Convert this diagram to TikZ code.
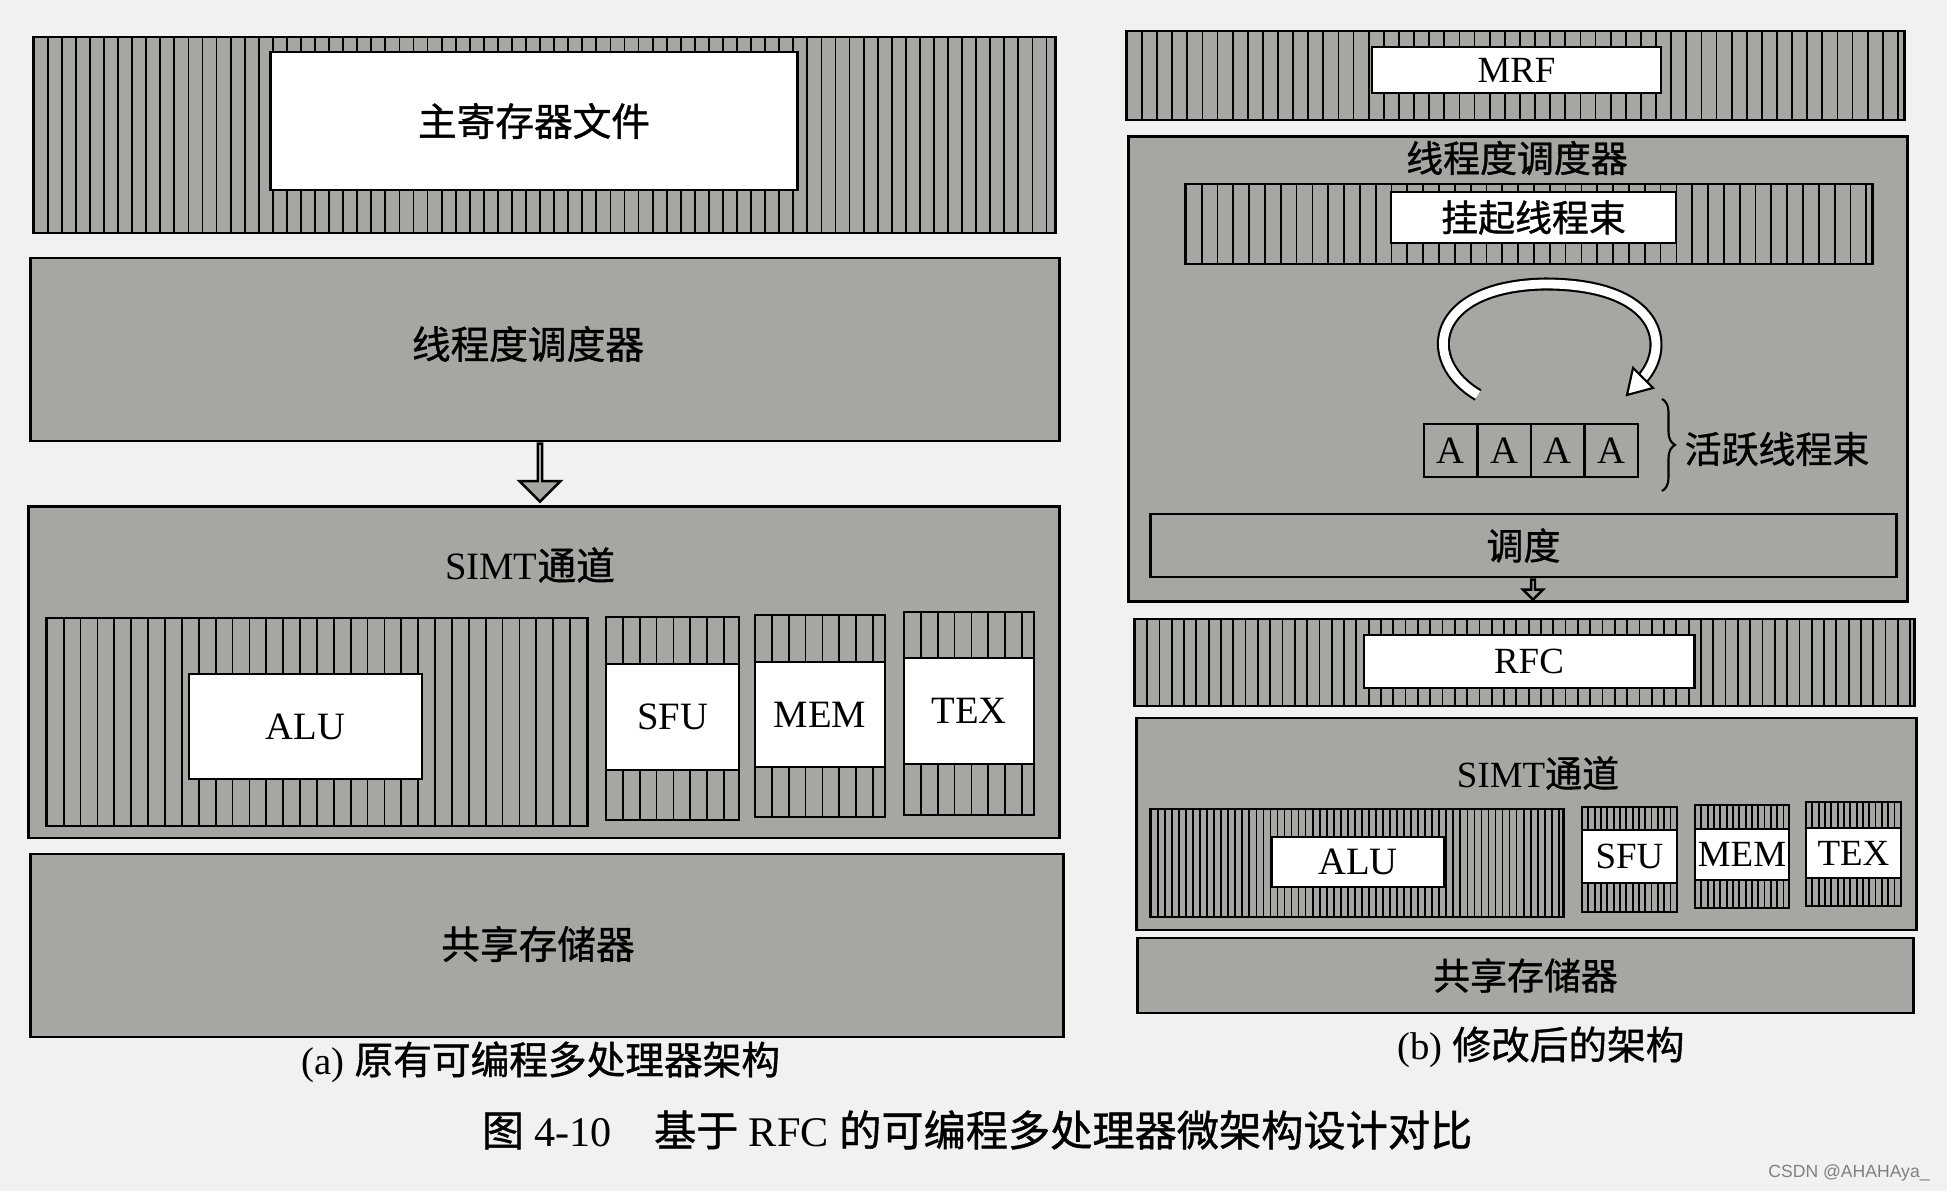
\documentclass[tikz,border=0pt]{standalone}
\usepackage{fontspec}
\setmainfont{Liberation Serif}
\newfontfamily\cjk{Noto Sans CJK SC}[FakeBold=1]
\newfontfamily\wmfont{Liberation Sans}
\usetikzlibrary{calc,shapes.arrows,decorations.pathreplacing}
\definecolor{paper}{RGB}{241,241,239}
\definecolor{boxgray}{RGB}{166,166,163}

\begin{document}
\begin{tikzpicture}[x=0.01cm,y=0.01cm,
  panel/.style={draw,line width=0.8pt,fill=boxgray,inner sep=0pt},
  hatch/.style={fill=boxgray,draw,line width=0.8pt,inner sep=0pt,
    path picture={\foreach \xx in {0,#1,...,300}
      \draw[line width=0.5pt] ($(path picture bounding box.south west)+(\xx pt,0)$)
        -- ($(path picture bounding box.north west)+(\xx pt,0)$);}},
  whitebox/.style={draw,line width=0.8pt,fill=white,inner sep=0pt},
  labA/.style={font=\fontsize{11}{13}\selectfont},
  labB/.style={font=\fontsize{10.5}{12}\selectfont},
  blockarrow/.style={single arrow,draw,line width=0.7pt,fill=boxgray,
    inner sep=0pt,single arrow head indent=0pt,rotate=-90,anchor=tail}]
  \useasboundingbox[fill=paper] (0,0) rectangle (1947,1191);

  % (a) original architecture
  \node[hatch=4,minimum width=10.21cm,minimum height=1.96cm] (mrfA) at (544.5,1056) {};
  \node[whitebox,labA,minimum width=5.26cm,minimum height=1.38cm] (regA) at (534,1070) {\cjk 主寄存器文件};
  \node[panel,minimum width=10.28cm,minimum height=1.83cm] (schedA) at (545,841.5) {};
  \node[labA] (schedAtxt) at (528,847) {\cjk 线程度调度器};
  \node[panel,minimum width=10.30cm,minimum height=3.31cm] (simtA) at (544,518.5) {};
  \node[labA] (simtAtxt) at (530,626) {SIMT{\cjk 通道}};
  \node[blockarrow,minimum height=0.58cm,minimum width=0.41cm,single arrow head extend=0.1cm] (arrA) at ([xshift=-0.05cm]schedA.south) {};
  \node[hatch=4.8,minimum width=5.40cm,minimum height=2.08cm] (aluA) at (317,469) {};
  \node[whitebox,labA,minimum width=2.33cm,minimum height=1.05cm] (aluAw) at (305.5,464.5) {ALU};
  \node[hatch=4.8,minimum width=1.33cm,minimum height=2.03cm] (sfuA) at (672.5,472.5) {};
  \node[whitebox,labA,minimum width=1.33cm,minimum height=1.06cm] (sfuAw) at (672.5,474) {SFU};
  \node[hatch=4.8,minimum width=1.30cm,minimum height=2.02cm] (memA) at (820,475) {};
  \node[whitebox,labA,minimum width=1.30cm,minimum height=1.05cm] (memAw) at (820,476.5) {MEM};
  \node[hatch=4.8,minimum width=1.30cm,minimum height=2.03cm] (texA) at (969,477.5) {};
  \node[whitebox,labA,minimum width=1.30cm,minimum height=1.06cm] (texAw) at (969,480) {TEX};
  \node[panel,minimum width=10.32cm,minimum height=1.83cm] (shmA) at (547,245.5) {};
  \node[labA] (shmAtxt) at (538,247) {\cjk 共享存储器};
  \node[labA] (capA) at (541,129) {(a) {\cjk 原有可编程多处理器架构}};

  % (b) modified architecture
  \node[hatch=4.3,minimum width=7.77cm,minimum height=0.89cm] (mrfB) at (1515.5,1115.5) {};
  \node[whitebox,labB,minimum width=2.89cm,minimum height=0.46cm] (mrfBw) at (1516.5,1121) {MRF};
  \node[panel,minimum width=7.78cm,minimum height=4.64cm] (schedB) at (1518,822) {};
  \node[labB] (schedBtxt) at (1517,1033) {\cjk 线程度调度器};
  \node[hatch=4.5,minimum width=6.86cm,minimum height=0.80cm] (pendB) at (1529,967) {};
  \node[whitebox,labB,minimum width=2.85cm,minimum height=0.51cm] (pendBw) at (1533.5,973.5) {\cjk 挂起线程束};
  \draw[line width=0.6pt,double=white,double distance=2.5pt]
    (1478,796) .. controls (1420,830) and (1430,905) .. (1545,907)
    .. controls (1660,907) and (1672,845) .. (1642,812);
  \draw[line width=0.6pt,fill=white] (1627,796) -- (1653,803) -- (1633,823) -- cycle;
  \foreach \i/\x in {1/1450.75,2/1504.25,3/1557.75,4/1611.25}
    \node[draw,line width=0.7pt,inner sep=0pt,minimum width=0.535cm,minimum height=0.53cm,labA] (a\i) at (\x,740.5) {A};
  \draw[decorate,decoration={brace,amplitude=0.13cm},line width=0.6pt] (1662,792) -- (1662,700);
  \node[labB] (actB) at (1777,742) {\cjk 活跃线程束};
  \node[panel,labB,minimum width=7.45cm,minimum height=0.63cm] (tiaoB) at (1523.5,645.5) {\cjk 调度};
  \node[blockarrow,minimum height=0.2cm,minimum width=0.2cm,single arrow head extend=0.05cm] (arrB) at ([xshift=0.095cm]tiaoB.south) {};
  \node[hatch=3.5,minimum width=7.79cm,minimum height=0.87cm] (rfcB) at (1524.5,528.5) {};
  \node[whitebox,labB,minimum width=3.30cm,minimum height=0.53cm] (rfcBw) at (1529,529.5) {RFC};
  \node[panel,minimum width=7.79cm,minimum height=2.12cm] (simtB) at (1526.5,367) {};
  \node[labB] (simtBtxt) at (1538,418) {SIMT{\cjk 通道}};
  \node[hatch=2,minimum width=4.12cm,minimum height=1.08cm] (aluB) at (1357,328) {};
  \node[whitebox,labA,minimum width=1.72cm,minimum height=0.50cm] (aluBw) at (1358,329) {ALU};
  \node[hatch=1.8,minimum width=0.95cm,minimum height=1.05cm] (sfuB) at (1629.5,331.5) {};
  \node[whitebox,labB,minimum width=0.95cm,minimum height=0.53cm] (sfuBw) at (1629.5,334.5) {SFU};
  \node[hatch=1.8,minimum width=0.94cm,minimum height=1.03cm] (memB) at (1742,334.5) {};
  \node[whitebox,labB,minimum width=0.94cm,minimum height=0.51cm] (memBw) at (1742,336.5) {MEM};
  \node[hatch=1.8,minimum width=0.95cm,minimum height=1.04cm] (texB) at (1853.5,337) {};
  \node[whitebox,labB,minimum width=0.95cm,minimum height=0.50cm] (texBw) at (1853.5,338) {TEX};
  \node[panel,labB,minimum width=7.75cm,minimum height=0.75cm] (shmB) at (1525.5,215.5) {\cjk 共享存储器};
  \node[labA] (capB) at (1541,144) {(b) {\cjk 修改后的架构}};

  % figure caption
  \node[font=\fontsize{12}{14}\selectfont] (fig) at (977,61) {{\cjk 图} 4-10\quad{\cjk 基于} RFC {\cjk 的可编程多处理器微架构设计对比}};
  \node[font=\wmfont\fontsize{5}{6}\selectfont,text=gray,anchor=east] (mark) at (1942,18) {CSDN @AHAHAya\_};
\end{tikzpicture}
\end{document}
